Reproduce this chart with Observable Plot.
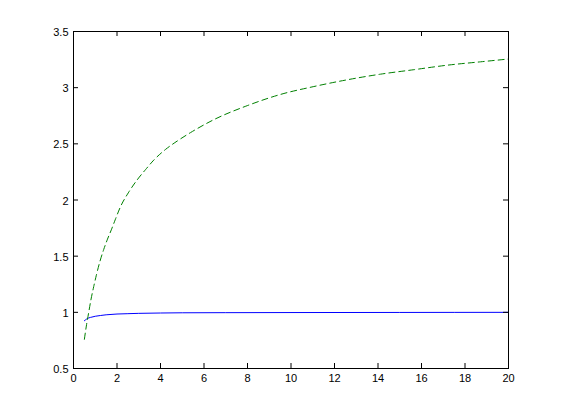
<!DOCTYPE html>
<html>
<head>
<meta charset="utf-8">
<script src="https://cdn.jsdelivr.net/npm/d3@7"></script>
<script src="https://cdn.jsdelivr.net/npm/@observablehq/plot@0.6"></script>
<style>
  html, body { margin: 0; padding: 0; background: white; }
</style>
</head>
<body>
<div id="chart"></div>
<script>
// Tick labels
const xTicks = [0, 2, 4, 6, 8, 10, 12, 14, 16, 18, 20];
const yTicks = [0.5, 1, 1.5, 2, 2.5, 3, 3.5];

// Green dashed series
const greenX = [0.5, 0.6, 0.7, 0.8, 0.93, 1.05, 1.21, 1.39, 1.55, 1.75, 1.93, 2.16, 2.54, 2.93, 3.31, 3.69, 4.23, 4.77, 5.38, 6.45, 7.99, 9.52, 11.05, 12.58, 14.11, 15.65, 17.18, 18.71, 20];
const greenY = [0.76, 0.89, 1.0, 1.11, 1.23, 1.33, 1.45, 1.56, 1.645, 1.74, 1.83, 1.94, 2.07, 2.18, 2.27, 2.355, 2.45, 2.525, 2.60, 2.715, 2.84, 2.94, 3.01, 3.07, 3.12, 3.16, 3.20, 3.23, 3.255];

// Blue solid series
const blueX = [0.5, 0.6, 0.7, 0.85, 1, 1.25, 1.5, 2, 2.5, 3, 4, 5, 7, 10, 15, 20];
const blueY = [0.925, 0.94, 0.95, 0.958, 0.965, 0.972, 0.978, 0.985, 0.988, 0.991, 0.994, 0.996, 0.997, 0.998, 0.999, 1.0];

const green = greenX.map((x, i) => ({x, y: greenY[i]}));
const blue = blueX.map((x, i) => ({x, y: blueY[i]}));

const W = 561, H = 414;
const mL = 73, mR = 53, mT = 31, mB = 46;
const innerW = W - mL - mR, innerH = H - mT - mB;
const tk = 5;

const chart = Plot.plot({
  width: W,
  height: H,
  marginLeft: mL,
  marginRight: mR,
  marginTop: mT,
  marginBottom: mB,
  style: {fontFamily: "'Liberation Sans', Arial, sans-serif", fontSize: "11px", background: "white", color: "black"},
  x: {domain: [0, 20]},
  y: {domain: [0.5, 3.5]},
  marks: [
    Plot.line(blue, {x: "x", y: "y", stroke: "#0000ff", strokeWidth: 1, curve: "monotone-x"}),
    Plot.line(green, {x: "x", y: "y", stroke: "#008000", strokeWidth: 1, strokeDasharray: "6,4", curve: "monotone-x"}),
    Plot.frame({stroke: "black"}),
    Plot.ruleX(xTicks, {x: d => d, insetTop: innerH - tk, stroke: "black"}),
    Plot.ruleX(xTicks, {x: d => d, insetBottom: innerH - tk, stroke: "black"}),
    Plot.ruleY(yTicks, {y: d => d, insetRight: innerW - tk, stroke: "black"}),
    Plot.ruleY(yTicks, {y: d => d, insetLeft: innerW - tk, stroke: "black"}),
    Plot.axisX({ticks: xTicks, tickSize: 0, tickPadding: 6, tickFormat: d => String(d), label: null, fontSize: 11}),
    Plot.axisY({ticks: yTicks, tickSize: 0, tickPadding: 5, tickFormat: d => String(d), label: null, fontSize: 11, dy: 1})
  ]
});
document.getElementById("chart").appendChild(chart);
</script>
</body>
</html>
